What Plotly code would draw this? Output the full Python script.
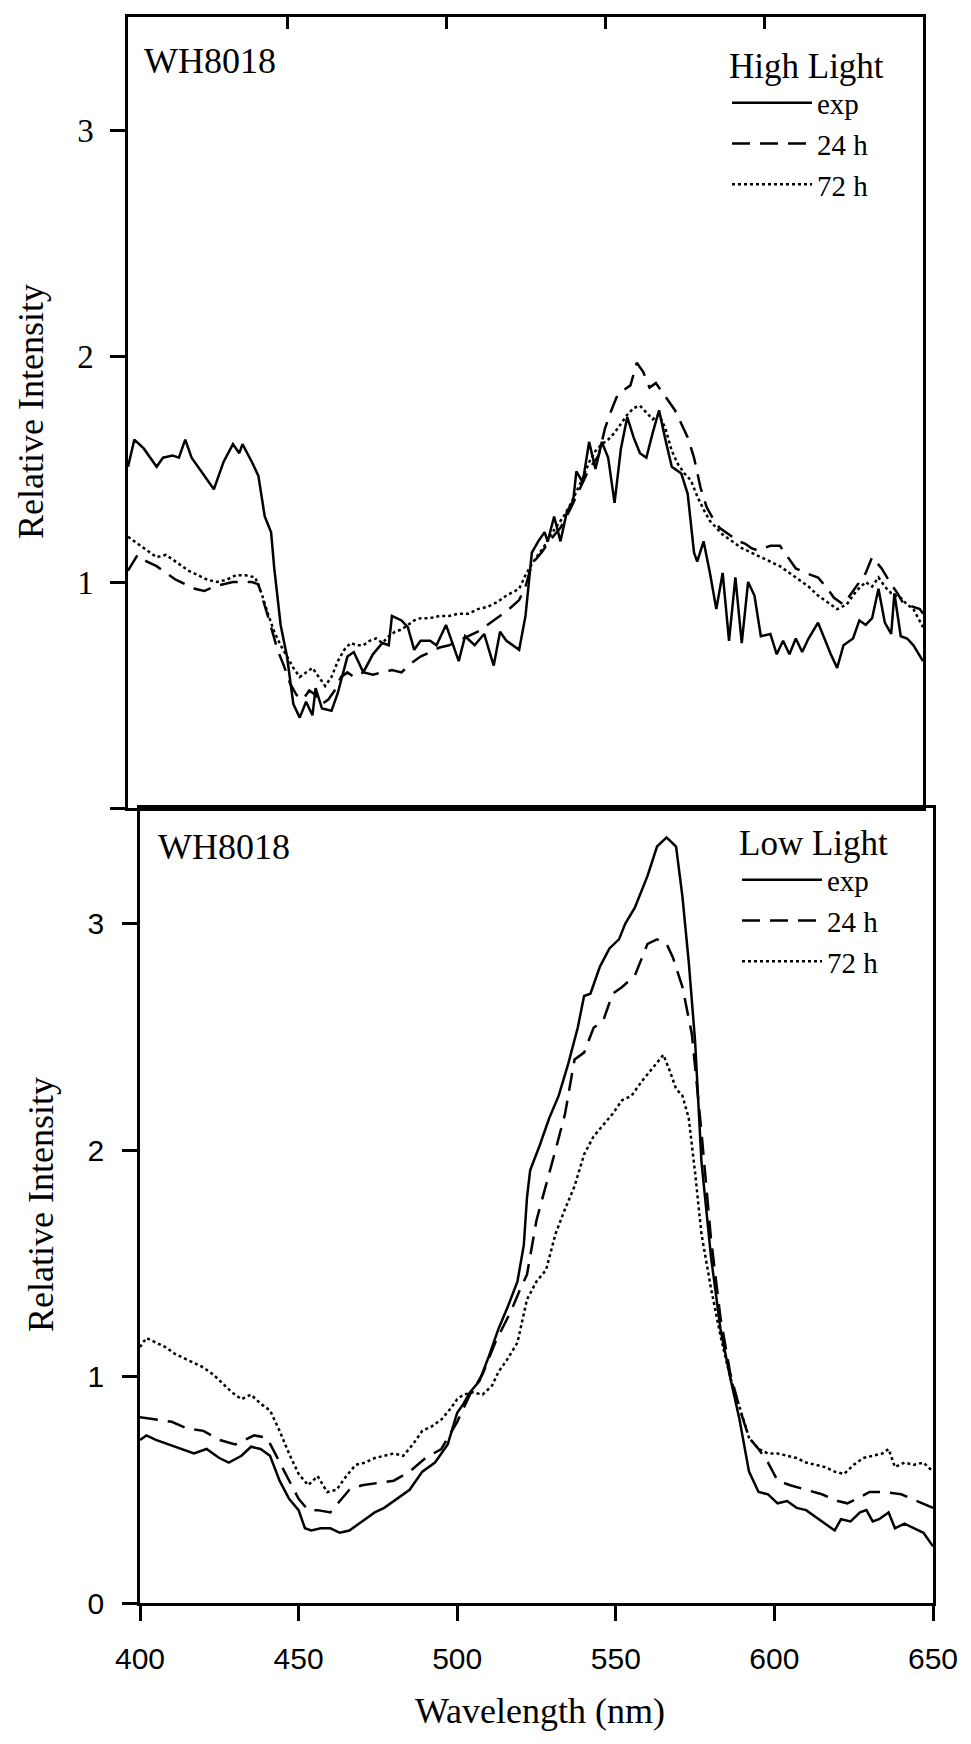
import plotly.graph_objects as go

# ---------------- data ----------------
# Top panel: High Light
hl_exp_nm = [400,402,405,409,411,414,416,418,420,423,427,430,433,435,436,439,441,443,445,446,
             448,450,452,454,456,458,459,461,464,466,469,471,474,477,480,482,483,486,488,490,
             492,495,497,500,504,506,509,512,515,517,519,523,525,527,529,531,532,534,536,538,
             540,541,543,545,547,549,551,553,555,557,559,561,563,565,567,569,571,574,576,578,
             579,581,583,585,587,589,591,593,595,597,599,602,604,606,608,610,612,614,617,619,
             621,623,625,628,630,632,634,636,638,640,641,643,645,647,650]
hl_exp = [1.51,1.63,1.59,1.51,1.55,1.56,1.55,1.63,1.55,1.49,1.41,1.53,1.61,1.57,1.61,1.53,1.47,1.29,1.22,1.06,
          0.81,0.67,0.46,0.40,0.47,0.41,0.53,0.44,0.43,0.51,0.67,0.69,0.60,0.68,0.73,0.72,0.85,0.83,0.80,0.70,
          0.74,0.74,0.72,0.81,0.65,0.76,0.72,0.77,0.63,0.78,0.74,0.70,0.85,1.13,1.18,1.22,1.18,1.29,1.18,1.31,
          1.36,1.49,1.44,1.62,1.50,1.62,1.55,1.35,1.59,1.73,1.64,1.57,1.55,1.66,1.76,1.63,1.51,1.48,1.39,1.13,
          1.09,1.18,1.04,0.88,1.04,0.74,1.02,0.73,1.00,0.94,0.76,0.77,0.68,0.74,0.68,0.75,0.69,0.75,0.82,0.75,
          0.68,0.62,0.72,0.75,0.83,0.81,0.84,0.97,0.82,0.77,0.95,0.76,0.75,0.72,0.65]

hl_24_nm = [400,403,406,409,412,415,418,421,424,427,430,433,436,439,441,443,445,447,449,451,
            453,455,457,459,461,463,465,467,469,471,474,477,480,483,486,489,492,495,498,501,
            504,507,510,513,516,519,523,525,527,530,533,536,539,542,545,548,550,552,554,556,
            558,560,562,564,566,568,570,572,574,576,578,580,582,584,586,588,590,592,594,596,
            598,600,602,605,608,610,613,617,620,622,625,628,630,632,634,637,640,642,644,645,
            647,649,650]
hl_24 = [1.05,1.12,1.09,1.07,1.04,1.01,0.99,0.97,0.96,0.98,0.99,1.00,1.00,1.00,0.99,0.90,0.80,0.70,0.63,0.55,
         0.50,0.48,0.52,0.50,0.46,0.48,0.52,0.58,0.60,0.58,0.60,0.59,0.60,0.61,0.60,0.64,0.67,0.69,0.71,0.72,
         0.74,0.76,0.78,0.81,0.84,0.87,0.92,0.98,1.08,1.13,1.19,1.24,1.32,1.41,1.50,1.56,1.68,1.76,1.83,1.85,
         1.87,1.97,1.93,1.86,1.88,1.84,1.80,1.76,1.70,1.64,1.55,1.42,1.33,1.28,1.24,1.22,1.20,1.18,1.17,1.15,
         1.14,1.15,1.16,1.16,1.10,1.06,1.04,1.02,0.97,0.93,0.90,0.96,1.00,1.04,1.11,1.06,0.99,0.95,0.90,0.90,
         0.89,0.88,0.86]

hl_72_nm = [400,403,406,409,412,414,416,419,422,425,428,431,434,437,440,442,444,446,448,450,
            452,454,456,458,460,462,464,466,468,470,472,474,476,478,480,482,484,486,488,490,
            492,495,498,501,504,507,510,513,516,519,523,525,527,529,531,533,535,537,539,541,
            543,545,547,549,551,553,555,557,559,561,563,565,567,569,571,573,575,577,579,581,
            583,585,587,590,593,596,599,602,605,608,611,614,617,620,623,626,629,632,634,636,
            638,640,643,645,647,650]
hl_72 = [1.20,1.17,1.14,1.11,1.12,1.10,1.08,1.05,1.03,1.01,1.00,1.01,1.03,1.03,1.02,0.95,0.86,0.78,0.72,0.67,
         0.62,0.58,0.60,0.62,0.58,0.54,0.58,0.65,0.70,0.73,0.72,0.72,0.74,0.75,0.73,0.76,0.78,0.79,0.81,0.83,
         0.84,0.84,0.85,0.85,0.86,0.86,0.88,0.89,0.91,0.94,0.97,1.03,1.08,1.12,1.16,1.21,1.25,1.29,1.34,1.40,
         1.46,1.53,1.58,1.61,1.63,1.66,1.70,1.74,1.77,1.78,1.75,1.72,1.74,1.68,1.58,1.52,1.48,1.45,1.38,1.32,
         1.27,1.24,1.21,1.18,1.15,1.13,1.11,1.09,1.07,1.04,1.01,0.98,0.94,0.91,0.88,0.90,0.96,1.00,0.98,1.02,
         0.98,0.95,0.93,0.90,0.88,0.80]

# Bottom panel: Low Light
ll_exp_nm = [400,402,405,411,417,421,425,428,432,435,438,441,444,447,450,452,454,457,460,463,
             466,470,474,477,481,485,489,493,497,500,502,504,507,510,513,516,519,521,522,523,
             526,529,532,535,538,540,542,545,548,551,553,556,560,563,566,569,571,573,575,577,
             580,583,586,589,592,595,598,601,604,607,610,613,616,619,621,624,627,629,631,633,
             636,638,641,644,647,650]
ll_exp = [0.72,0.74,0.72,0.69,0.66,0.68,0.64,0.62,0.65,0.69,0.68,0.65,0.54,0.46,0.41,0.33,0.32,0.33,0.33,0.31,
          0.32,0.36,0.40,0.42,0.46,0.50,0.58,0.62,0.70,0.84,0.88,0.93,0.98,1.09,1.21,1.31,1.42,1.58,1.79,1.91,
          2.02,2.14,2.24,2.38,2.54,2.68,2.69,2.81,2.89,2.93,3.00,3.07,3.21,3.34,3.38,3.34,3.12,2.83,2.48,1.95,
          1.53,1.21,1.00,0.81,0.58,0.49,0.48,0.44,0.45,0.42,0.41,0.38,0.35,0.32,0.37,0.36,0.40,0.41,0.36,0.37,
          0.40,0.33,0.35,0.33,0.31,0.25]

ll_24_nm = [400,405,410,415,420,425,430,433,436,440,443,446,450,453,456,460,463,466,470,475,
            480,485,490,495,500,504,508,512,517,520,522,525,528,531,534,537,540,543,546,549,
            552,556,560,563,566,568,571,574,577,580,583,586,589,592,595,598,601,605,610,615,
            620,623,626,630,635,640,645,650]
ll_24 = [0.82,0.81,0.80,0.77,0.76,0.72,0.70,0.72,0.74,0.73,0.65,0.57,0.46,0.41,0.41,0.40,0.45,0.50,0.52,0.53,
         0.54,0.58,0.64,0.68,0.80,0.92,1.01,1.15,1.29,1.39,1.45,1.69,1.84,2.00,2.16,2.40,2.43,2.54,2.57,2.69,
         2.72,2.77,2.91,2.93,2.91,2.85,2.72,2.51,2.08,1.61,1.26,1.02,0.86,0.73,0.68,0.62,0.54,0.52,0.50,0.48,
         0.45,0.44,0.46,0.49,0.49,0.48,0.45,0.42]

ll_72_nm = [400,402,405,408,411,414,417,420,423,426,429,432,435,438,441,444,447,450,453,456,
            459,462,465,468,471,474,477,480,483,486,489,492,495,498,500,502,505,508,511,513,
            516,519,522,525,528,531,534,537,540,543,546,549,552,555,558,561,565,567,569,571,
            573,575,577,580,583,586,589,592,595,598,601,604,607,610,613,616,619,622,625,628,
            631,634,636,638,641,644,647,650]
ll_72 = [1.13,1.17,1.15,1.13,1.10,1.08,1.06,1.04,1.01,0.97,0.93,0.90,0.92,0.88,0.85,0.76,0.66,0.57,0.52,0.56,
         0.49,0.50,0.56,0.61,0.62,0.64,0.65,0.66,0.65,0.70,0.76,0.78,0.81,0.86,0.90,0.92,0.93,0.92,0.96,1.02,
         1.08,1.15,1.34,1.42,1.47,1.63,1.74,1.84,1.98,2.06,2.11,2.16,2.22,2.24,2.30,2.35,2.42,2.35,2.27,2.24,
         2.14,1.90,1.63,1.39,1.18,1.00,0.86,0.73,0.68,0.66,0.66,0.65,0.64,0.62,0.61,0.60,0.58,0.57,0.61,0.64,
         0.65,0.66,0.68,0.60,0.62,0.61,0.62,0.58]

x_ticks = [400, 450, 500, 550, 600, 650]
y_ticks = [0, 1, 2, 3]
top_y_ticktext = ["", "1", "2", "3"]
bottom_y_ticktext = ["0", "1", "2", "3"]
series_names = ["exp", "24 h", "72 h"]
panel_labels = ["WH8018", "WH8018"]
legend_titles = ["High Light", "Low Light"]

# ---------------- styling ----------------
W, H = 971, 1744
SERIF = "Liberation Serif, Times New Roman, serif"
SANS = "Liberation Sans, Arial, sans-serif"
LW = 2.5
DASHES = ["solid", "18px,10px", "3px,3px"]


def fx(px):
    return px / W


def fy(py):
    return 1 - py / H


fig = go.Figure()

top = [(hl_exp_nm, hl_exp), (hl_24_nm, hl_24), (hl_72_nm, hl_72)]
bot = [(ll_exp_nm, ll_exp), (ll_24_nm, ll_24), (ll_72_nm, ll_72)]

for (xs, ys), name, dash in zip(top, series_names, DASHES):
    fig.add_trace(go.Scatter(x=xs, y=ys, mode="lines", name=name, xaxis="x", yaxis="y",
                             line=dict(color="black", width=LW, dash=dash), legend="legend"))
for (xs, ys), name, dash in zip(bot, series_names, DASHES):
    fig.add_trace(go.Scatter(x=xs, y=ys, mode="lines", name=name, xaxis="x2", yaxis="y2",
                             line=dict(color="black", width=LW, dash=dash), legend="legend2"))

top_xdom = [fx(128), fx(923)]
bot_xdom = [fx(140), fx(933)]
top_ydom = [fy(808), fy(17)]
bot_ydom = [fy(1603), fy(808)]

common_x = dict(range=[400, 650], tickvals=x_ticks, showgrid=False, zeroline=False,
                tickcolor="black", tickwidth=LW, automargin=False)

fig.update_layout(
    width=W, height=H,
    margin=dict(l=0, r=0, t=0, b=0),
    paper_bgcolor="white", plot_bgcolor="white",
    showlegend=True,
    xaxis=dict(domain=top_xdom, anchor="y", side="top", ticks="inside", ticklen=12,
               showticklabels=False, showline=True, linecolor="black", linewidth=LW,
               mirror=True, **common_x),
    yaxis=dict(domain=top_ydom, anchor="x", range=[0, 3.5], tickvals=y_ticks,
               ticktext=top_y_ticktext, ticks="outside", ticklen=15, tickwidth=LW,
               tickcolor="black", showline=True, linecolor="black", linewidth=LW,
               mirror=True, showgrid=False, zeroline=False, automargin=False,
               ticklabelstandoff=10,
               tickfont=dict(family=SERIF, size=33, color="black")),
    xaxis2=dict(domain=bot_xdom, anchor="y2", ticks="outside", ticklen=15,
                showline=True, linecolor="black", linewidth=LW, mirror=True,
                ticklabelstandoff=12,
                tickfont=dict(family=SANS, size=30, color="black"), **common_x),
    xaxis3=dict(overlaying="x2", anchor="y2", side="top", ticks="outside", ticklen=12,
                showticklabels=False, showline=False, **common_x),
    xaxis4=dict(overlaying="x2", anchor="y2", side="top", ticks="inside", ticklen=12,
                showticklabels=False, showline=False, **common_x),
    yaxis2=dict(domain=bot_ydom, anchor="x2", range=[0, 3.51], tickvals=y_ticks,
                ticktext=bottom_y_ticktext, ticks="outside", ticklen=15, tickwidth=LW,
                tickcolor="black", showline=True, linecolor="black", linewidth=LW,
                mirror=True, showgrid=False, zeroline=False, automargin=False,
                ticklabelstandoff=12,
                tickfont=dict(family=SANS, size=30, color="black")),
    legend=dict(x=fx(727), y=fy(32), xanchor="left", yanchor="top",
                bgcolor="rgba(0,0,0,0)", borderwidth=0, itemwidth=80,
                font=dict(family=SERIF, size=29, color="black"),
                title=dict(text=legend_titles[0], side="top",
                           font=dict(family=SERIF, size=35, color="black")),
                tracegroupgap=0),
    legend2=dict(x=fx(737), y=fy(809), xanchor="left", yanchor="top",
                 bgcolor="rgba(0,0,0,0)", borderwidth=0, itemwidth=80,
                 font=dict(family=SERIF, size=29, color="black"),
                 title=dict(text=legend_titles[1], side="top",
                            font=dict(family=SERIF, size=35, color="black")),
                 tracegroupgap=0),
)

# panel labels and axis titles
ann_font = dict(family=SERIF, size=36, color="black")
fig.add_annotation(text=panel_labels[0], x=fx(142), y=fy(61), xref="paper", yref="paper",
                   xanchor="left", yanchor="middle", showarrow=False, font=ann_font)
fig.add_annotation(text=panel_labels[1], x=fx(156), y=fy(847), xref="paper", yref="paper",
                   xanchor="left", yanchor="middle", showarrow=False, font=ann_font)
title_font = dict(family=SERIF, size=36, color="black")
fig.add_annotation(text="Relative Intensity", x=fx(31), y=fy(412), xref="paper", yref="paper",
                   textangle=-90, xanchor="center", yanchor="middle", showarrow=False,
                   font=title_font)
fig.add_annotation(text="Relative Intensity", x=fx(41), y=fy(1205), xref="paper", yref="paper",
                   textangle=-90, xanchor="center", yanchor="middle", showarrow=False,
                   font=title_font)
fig.add_annotation(text="Wavelength (nm)", x=fx(540), y=fy(1711), xref="paper", yref="paper",
                   xanchor="center", yanchor="middle", showarrow=False, font=title_font)

fig.write_html("out.html")
